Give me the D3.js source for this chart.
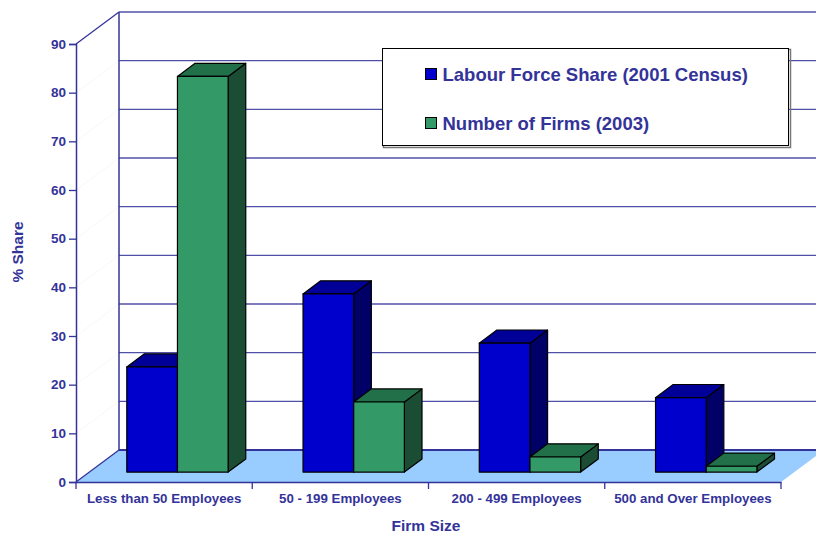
<!DOCTYPE html>
<html>
<head>
<meta charset="utf-8">
<script src="https://cdn.jsdelivr.net/npm/d3@7"></script>
<style>
  body { margin: 0; background: #fff; }
  svg { display: block; font-family: Arial, "Liberation Sans", sans-serif; font-weight: bold; }
</style>
</head>
<body>
<svg id="chart" width="816" height="533"></svg>
<script>
'use strict';

const categories = ['Less than 50 Employees', '50 - 199 Employees', '200 - 499 Employees', '500 and Over Employees'];
const seriesNames = ['Labour Force Share (2001 Census)', 'Number of Firms (2003)'];
const labourShare = [21.6, 36.6, 26.5, 15.3];
const firmsShare = [81.3, 14.4, 3.1, 1.2];
const yTicks = [0, 10, 20, 30, 40, 50, 60, 70, 80, 90];

const textColor = '#333399';
const palette = [
  { front: '#0000cc', top: '#000099', side: '#000066' },
  { front: '#339966', top: '#22704a', side: '#1a4d33' }
];

const svg = d3.select('#chart');

// front plane of the plot and the depth offset to the back wall
const left = 76, right = 781;
const dx = 43, dy = 32;
// bars sit between these fractions of the depth
const z0 = 0.31, z1 = 0.72;

const x = d3.scaleBand().domain(categories).range([left, right]).padding(0);
const y = d3.scaleLinear().domain([0, 90]).range([482, 44]);
const groupW = x.bandwidth() * 0.575;
const xs = d3.scaleBand().domain(seriesNames).range([0, groupW]);

// back wall gridlines
const back = svg.append('g');
back.selectAll('line.grid')
  .data(yTicks.slice(1))
  .join('line')
  .attr('x1', left + dx).attr('x2', 816)
  .attr('y1', d => y(d) - dy).attr('y2', d => y(d) - dy)
  .attr('stroke', '#5050a8').attr('stroke-width', 1.3);

// barely visible side wall gridlines
back.selectAll('line.side')
  .data(yTicks.slice(1, -1))
  .join('line')
  .attr('x1', left).attr('y1', d => y(d))
  .attr('x2', left + dx).attr('y2', d => y(d) - dy)
  .attr('stroke', '#f8f8f8');

back.append('line')
  .attr('x1', left + dx).attr('x2', left + dx)
  .attr('y1', y(90) - dy).attr('y2', y(0) - dy)
  .attr('stroke', textColor).attr('stroke-width', 1.5);
back.append('line')
  .attr('x1', left).attr('y1', y(90))
  .attr('x2', left + dx).attr('y2', y(90) - dy)
  .attr('stroke', textColor).attr('stroke-width', 1.3);

// floor
svg.append('path')
  .attr('d', `M${left},${y(0)}L${left + dx},${y(0) - dy}L${right + dx},${y(0) - dy}L${right},${y(0)}Z`)
  .attr('fill', '#99ccff');
svg.append('line')
  .attr('x1', left + dx).attr('x2', 816)
  .attr('y1', y(0) - dy).attr('y2', y(0) - dy)
  .attr('stroke', textColor).attr('stroke-width', 2);
svg.append('line')
  .attr('x1', left).attr('y1', y(0))
  .attr('x2', left + dx).attr('y2', y(0) - dy)
  .attr('stroke', textColor).attr('stroke-width', 1.3);

// legend
const legend = svg.append('g');
legend.append('rect')
  .attr('x', 383.5).attr('y', 49.5).attr('width', 407).attr('height', 98)
  .attr('fill', 'none').attr('stroke', '#777').attr('stroke-width', 1.5);
legend.append('rect')
  .attr('x', 382.5).attr('y', 48.5).attr('width', 406).attr('height', 97)
  .attr('fill', '#fff').attr('stroke', '#000');
const legendItems = legend.selectAll('g.item')
  .data(seriesNames)
  .join('g')
  .attr('transform', (d, i) => `translate(425.5,${68.5 + i * 49})`);
legendItems.append('rect')
  .attr('width', 11).attr('height', 11)
  .attr('fill', (d, i) => palette[i].front)
  .attr('stroke', '#000');
legendItems.append('text')
  .attr('x', 17).attr('y', 12)
  .attr('font-size', 18.5)
  .attr('fill', textColor)
  .text(d => d);

// bars, drawn group by group, left to right
const rows = categories.map((c, i) => [labourShare[i], firmsShare[i]]);
const ox0 = dx * z0, oy0 = dy * z0;
const ox1 = dx * z1, oy1 = dy * z1;

rows.forEach((vals, ci) => {
  const c = categories[ci];
  const gx = x(c) + (x.bandwidth() - groupW) / 2;
  vals.forEach((v, si) => {
    const col = palette[si];
    const x0 = gx + xs(seriesNames[si]) + ox0;
    const x1 = x0 + xs.bandwidth();
    const yb = y(0) - oy0;
    const yt = y(v) - oy0;
    const ddx = ox1 - ox0, ddy = oy1 - oy0;
    const g = svg.append('g').attr('stroke', '#000').attr('stroke-width', 1.2).attr('stroke-linejoin', 'round');
    g.append('path')
      .attr('d', `M${x1},${yb}L${x1 + ddx},${yb - ddy}L${x1 + ddx},${yt - ddy}L${x1},${yt}Z`)
      .attr('fill', col.side);
    g.append('path')
      .attr('d', `M${x0},${yt}L${x0 + ddx},${yt - ddy}L${x1 + ddx},${yt - ddy}L${x1},${yt}Z`)
      .attr('fill', col.top);
    g.append('rect')
      .attr('x', x0).attr('y', yt)
      .attr('width', x1 - x0).attr('height', yb - yt)
      .attr('fill', col.front);
  });
});

// y axis on the front plane
const yAxis = svg.append('g')
  .attr('transform', `translate(${left},0)`)
  .call(d3.axisLeft(y).tickValues(yTicks).tickSize(7).tickPadding(3));
yAxis.select('.domain').attr('stroke', textColor).attr('stroke-width', 1.5);
yAxis.selectAll('.tick line').attr('stroke', textColor).attr('stroke-width', 1.3);
yAxis.selectAll('.tick text')
  .attr('fill', textColor)
  .attr('font-size', 13.5)
  .attr('font-family', 'Arial, "Liberation Sans", sans-serif')
  .attr('font-weight', 'bold');

// x axis on the front plane
const xAxis = svg.append('g')
  .attr('transform', `translate(0,${y(0)})`)
  .call(d3.axisBottom(x).tickSize(0).tickPadding(12));
xAxis.select('.domain').attr('stroke', textColor).attr('stroke-width', 1.5);
xAxis.selectAll('.tick text')
  .attr('fill', textColor)
  .attr('font-size', 13.3)
  .attr('font-family', 'Arial, "Liberation Sans", sans-serif')
  .attr('font-weight', 'bold');
xAxis.selectAll('line.sep')
  .data(categories.map(c => x(c)).concat([right]))
  .join('line')
  .attr('class', 'sep')
  .attr('x1', d => d).attr('x2', d => d)
  .attr('y1', 0).attr('y2', 7)
  .attr('stroke', textColor).attr('stroke-width', 1.3);

// axis titles
svg.append('text')
  .attr('x', 426).attr('y', 531)
  .attr('text-anchor', 'middle')
  .attr('font-size', 15.5)
  .attr('fill', textColor)
  .text('Firm Size');
svg.append('text')
  .attr('transform', 'translate(23,252) rotate(-90)')
  .attr('text-anchor', 'middle')
  .attr('font-size', 15.5)
  .attr('fill', textColor)
  .text('% Share');
</script>
</body>
</html>
